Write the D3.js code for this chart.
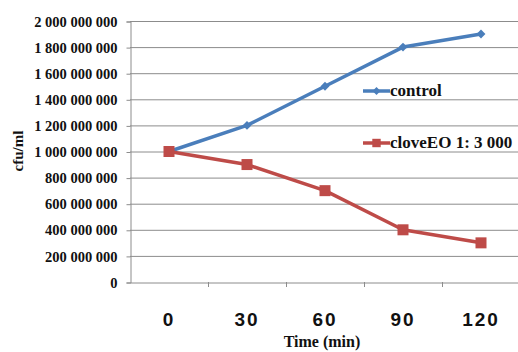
<!DOCTYPE html>
<html>
<head>
<meta charset="utf-8">
<script src="https://cdn.jsdelivr.net/npm/d3@7"></script>
<style>
  body { margin: 0; background: #fff; }
  .serif { font-family: 'Liberation Serif', 'Times New Roman', Times, serif; font-weight: bold; }
  .sans { font-family: 'Liberation Sans', Arial, sans-serif; font-weight: bold; }
</style>
</head>
<body>
<div id="chart"></div>
<script>
'use strict';

// data ---------------------
const times   = ['0', '30', '60', '90', '120']
const control = [1000000000, 1200000000, 1500000000, 1800000000, 1900000000]
const clove   = [1000000000, 900000000, 700000000, 400000000, 300000000]
const yTicks  = [0, 200000000, 400000000, 600000000, 800000000, 1000000000,
                 1200000000, 1400000000, 1600000000, 1800000000, 2000000000]

const width  = 518
const height = 352
const plotLeft = 130, plotRight = 520, plotTop = 21, plotBottom = 282

const blue = '#4a7ebb'
const red  = '#be4b48'
const grid = '#8c8c8c'

const svg = d3.select('#chart').append('svg')
    .attr('width', width)
    .attr('height', height)

const x = d3.scaleBand().domain(times).range([plotLeft, plotRight])
const y = d3.scaleLinear().domain([0, 2000000000]).range([plotBottom, plotTop])

const fmt = function(v) { return d3.format(',')(v).replace(/,/g, ' ') }

// gridlines
svg.append('g').selectAll('line')
    .data(yTicks.slice(1))
    .enter().append('line')
    .attr('x1', plotLeft).attr('x2', width)
    .attr('y1', function(d) { return y(d) + 0.5 })
    .attr('y2', function(d) { return y(d) + 0.5 })
    .attr('stroke', grid).attr('stroke-width', 1)

// y axis
const yAxis = svg.append('g')
    .attr('transform', 'translate(' + (plotLeft + 0.5) + ',0.5)')
    .call(d3.axisLeft(y).tickValues(yTicks).tickFormat(fmt).tickSize(4).tickPadding(9))
    .attr('font-family', null).attr('font-size', null)
yAxis.select('.domain').attr('stroke', grid)
yAxis.selectAll('.tick line').attr('stroke', grid)
yAxis.selectAll('text')
    .attr('class', 'serif')
    .style('font-size', '14.5px')
    .attr('fill', '#111')

// x axis
const xAxis = svg.append('g')
    .attr('transform', 'translate(0,' + (plotBottom + 0.5) + ')')
    .call(d3.axisBottom(x).tickSize(0).tickPadding(30))
    .attr('font-family', null).attr('font-size', null)
xAxis.select('.domain').attr('stroke', grid)
xAxis.selectAll('text')
    .attr('class', 'sans')
    .style('font-size', '19px')
    .style('letter-spacing', '2px')
    .attr('fill', '#111')

// band boundary ticks
svg.append('g').selectAll('line')
    .data(times.slice(1))
    .enter().append('line')
    .attr('x1', function(d) { return Math.round(x(d)) + 0.5 })
    .attr('x2', function(d) { return Math.round(x(d)) + 0.5 })
    .attr('y1', plotBottom).attr('y2', plotBottom + 5)
    .attr('stroke', grid)

// axis titles
svg.append('text')
    .attr('class', 'serif')
    .attr('x', 322).attr('y', 347)
    .attr('text-anchor', 'middle')
    .style('font-size', '16px')
    .attr('fill', '#111')
    .text('Time (min)')

svg.append('text')
    .attr('class', 'serif')
    .attr('transform', 'translate(23,151) rotate(-90)')
    .attr('text-anchor', 'middle')
    .style('font-size', '15px')
    .attr('fill', '#111')
    .text('cfu/ml')

// series
const cx = function(d, i) { return x(times[i]) + x.bandwidth() / 2 }
const line = d3.line().x(cx).y(function(d) { return y(d) })

svg.append('path').datum(control)
    .attr('d', line).attr('fill', 'none')
    .attr('stroke', blue).attr('stroke-width', 3.5).attr('stroke-linejoin', 'round')

svg.append('path').datum(clove)
    .attr('d', line).attr('fill', 'none')
    .attr('stroke', red).attr('stroke-width', 3.5).attr('stroke-linejoin', 'round')

svg.append('g').selectAll('path')
    .data(control)
    .enter().append('path')
    .attr('d', d3.symbol().type(d3.symbolDiamond2).size(50))
    .attr('transform', function(d, i) { return 'translate(' + cx(d, i) + ',' + y(d) + ')' })
    .attr('fill', blue)

svg.append('g').selectAll('rect')
    .data(clove)
    .enter().append('rect')
    .attr('x', function(d, i) { return cx(d, i) - 5.5 })
    .attr('y', function(d) { return y(d) - 5.5 })
    .attr('width', 11).attr('height', 11)
    .attr('fill', red)

// legend
const legend = [
    { name: 'control', color: blue, y: 91, shape: 'diamond' },
    { name: 'cloveEO 1: 3 000', color: red, y: 143, shape: 'square' }
]
const lg = svg.append('g').selectAll('g')
    .data(legend)
    .enter().append('g')
    .attr('transform', function(d) { return 'translate(363,' + d.y + ')' })
lg.append('line')
    .attr('x1', 0).attr('x2', 27)
    .attr('stroke', function(d) { return d.color }).attr('stroke-width', 3.5)
lg.append('path')
    .attr('d', function(d) {
        return d3.symbol().type(d.shape == 'diamond' ? d3.symbolDiamond2 : d3.symbolSquare2)
            .size(d.shape == 'diamond' ? 40 : 90)()
    })
    .attr('transform', 'translate(13.5,0)')
    .attr('fill', function(d) { return d.color })
lg.append('text')
    .attr('class', 'serif')
    .attr('x', 27).attr('y', 5)
    .style('font-size', '17px')
    .attr('fill', '#111')
    .text(function(d) { return d.name })
</script>
</body>
</html>
